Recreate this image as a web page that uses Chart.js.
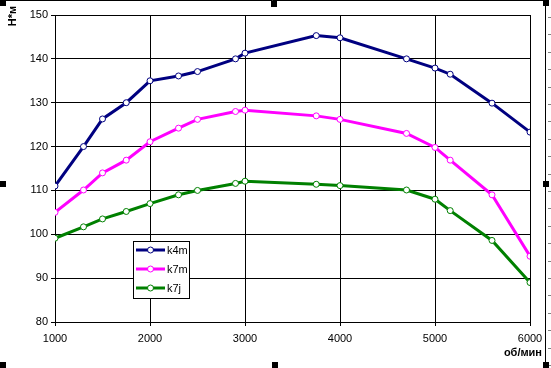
<!DOCTYPE html>
<html lang="ru">
<head>
    <meta charset="UTF-8">
    <title>Момент</title>
    <script src="https://cdn.jsdelivr.net/npm/chart.js"></script>
    <style>
        body { margin: 0; background: #fff; }
        #wrap { width: 551px; height: 368px; }
    </style>
</head>
<body>
    <div id="wrap">
        <canvas id="grafico" width="551" height="368"></canvas>
    </div>
<script>
// обороты двигателя, об/мин
const rpm = [1000, 1300, 1500, 1750, 2000, 2300, 2500, 2900, 3000, 3750, 4000, 4700, 5000, 5160, 5600, 6000];
// крутящий момент, Н*м
const k4m = [111, 120, 126.3, 130, 135, 136.1, 137.1, 140, 141.3, 145.3, 144.8, 140, 137.9, 136.5, 129.9, 123.3];
const k7m = [105, 110.1, 114, 116.9, 121.1, 124.2, 126.2, 128, 128.3, 127, 126.2, 123, 119.8, 116.9, 109, 95];
const k7j = [99.1, 101.7, 103.5, 105.2, 107, 109, 110, 111.6, 112.1, 111.4, 111.1, 110.1, 108, 105.4, 98.6, 89];

const seriesNames = ['k4m', 'k7m', 'k7j'];
const seriesColors = ['#000080', '#ff00ff', '#008000'];
const xTicks = [1000, 2000, 3000, 4000, 5000, 6000];
const yTicks = [80, 90, 100, 110, 120, 130, 140, 150];

const fonte = '"Liberation Sans", Arial, sans-serif';

function serie(nome, valores, cor) {
    return {
        label: nome,
        data: rpm.map((r, i) => ({ x: r, y: valores[i] })),
        borderColor: cor,
        backgroundColor: '#ffffff',
        borderWidth: 3,
        pointRadius: 3,
        pointBorderWidth: 1,
        pointBackgroundColor: '#ffffff',
        pointBorderColor: cor,
        tension: 0
    };
}

// рамка, маркеры выделения, подписи осей и легенда
const extras = {
    id: 'extras',
    afterDraw(chart) {
        const ctx = chart.ctx;
        ctx.save();

        // рамка области диаграммы
        ctx.strokeStyle = '#000';
        ctx.lineWidth = 1;
        ctx.beginPath();
        ctx.moveTo(0, 0.5);
        ctx.lineTo(545.5, 0.5);
        ctx.moveTo(545.5, 0);
        ctx.lineTo(545.5, 368);
        ctx.stroke();
        ctx.strokeStyle = '#808080';
        ctx.beginPath();
        for (let y = 17; y < 368; y += 17.4) {
            ctx.moveTo(548, Math.round(y) + 0.5);
            ctx.lineTo(551, Math.round(y) + 0.5);
        }
        ctx.stroke();

        // маркеры выделения
        ctx.fillStyle = '#000';
        [[0, 0], [271, 1], [543, 0], [0, 181], [543, 181], [0, 362], [272, 362], [543, 362]].forEach(p => {
            ctx.fillRect(p[0], p[1], 6, 6);
        });

        // подписи осей
        ctx.fillStyle = '#000';
        ctx.font = 'bold 11px ' + fonte;
        ctx.textBaseline = 'middle';
        ctx.textAlign = 'right';
        ctx.fillText('об/мин', 542, 353);
        ctx.save();
        ctx.translate(13, 16);
        ctx.rotate(-Math.PI / 2);
        ctx.textAlign = 'center';
        ctx.fillText('Н*м', 0, 0);
        ctx.restore();

        // легенда
        const lx = 133, ly = 241, lw = 56, lh = 57;
        ctx.fillStyle = '#fff';
        ctx.fillRect(lx, ly, lw, lh);
        ctx.strokeStyle = '#000';
        ctx.lineWidth = 1;
        ctx.strokeRect(lx + 0.5, ly + 0.5, lw, lh);
        chart.data.datasets.forEach((ds, i) => {
            const y = ly + 9 + i * 19;
            ctx.strokeStyle = ds.borderColor;
            ctx.lineWidth = 3;
            ctx.beginPath();
            ctx.moveTo(lx + 3, y);
            ctx.lineTo(lx + 32, y);
            ctx.stroke();
            ctx.beginPath();
            ctx.arc(lx + 17.5, y, 3, 0, Math.PI * 2);
            ctx.fillStyle = '#fff';
            ctx.fill();
            ctx.lineWidth = 1;
            ctx.stroke();
            ctx.fillStyle = '#000';
            ctx.font = '11px ' + fonte;
            ctx.textAlign = 'left';
            ctx.textBaseline = 'middle';
            ctx.fillText(ds.label, lx + 34, y + 1);
        });
        ctx.restore();
    }
};

new Chart(document.getElementById('grafico'), {
    type: 'line',
    data: {
        datasets: [
            serie(seriesNames[0], k4m, seriesColors[0]),
            serie(seriesNames[1], k7m, seriesColors[1]),
            serie(seriesNames[2], k7j, seriesColors[2])
        ]
    },
    options: {
        responsive: false,
        animation: false,
        layout: { padding: { left: 0, top: 15, right: 21, bottom: 0 } },
        plugins: {
            legend: { display: false },
            tooltip: { enabled: false }
        },
        scales: {
            x: {
                type: 'linear',
                min: xTicks[0],
                max: xTicks[xTicks.length - 1],
                afterBuildTicks: s => { s.ticks = xTicks.map(v => ({ value: v })); },
                afterFit: s => { s.height = 46; },
                grid: { color: '#000', lineWidth: 1, tickLength: 4 },
                border: { color: '#000', width: 1 },
                ticks: {
                    color: '#000',
                    padding: 6,
                    maxRotation: 0,
                    font: { family: fonte, size: 11 },
                    callback: v => String(v)
                }
            },
            y: {
                min: yTicks[0],
                max: yTicks[yTicks.length - 1],
                afterBuildTicks: s => { s.ticks = yTicks.map(v => ({ value: v })); },
                afterFit: s => { s.width = 55; },
                grid: { color: '#000', lineWidth: 1, tickLength: 4 },
                border: { color: '#000', width: 1 },
                ticks: {
                    color: '#000',
                    padding: 3,
                    font: { family: fonte, size: 11 },
                    callback: v => String(v)
                }
            }
        }
    },
    plugins: [extras]
});
</script>
</body>
</html>
